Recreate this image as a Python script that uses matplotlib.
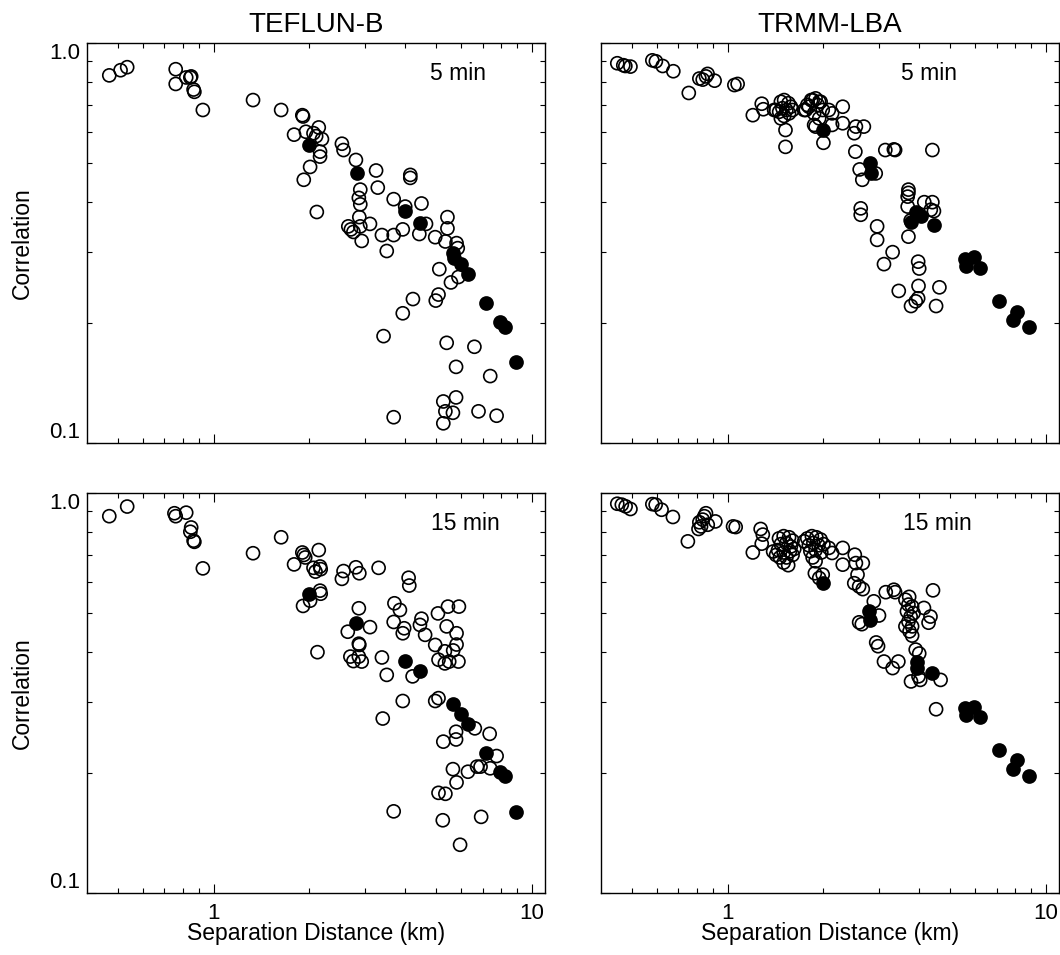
import numpy as np
import matplotlib.pyplot as plt
from matplotlib.ticker import FixedLocator, NullFormatter

plt.rcParams['font.family'] = ['Liberation Sans', 'DejaVu Sans']

# ---- labels ----
titles = ["TEFLUN-B", "TRMM-LBA"]
intervals = ["5 min", "15 min"]
x_label = "Separation Distance (km)"
y_label = "Correlation"

# ---- data: (separation km, correlation) ----
tef5_open = [
    (0.47, 0.83), (0.51, 0.855), (0.535, 0.87), (0.76, 0.86), (0.76, 0.79), (0.82, 0.82), (0.85, 0.825),
    (0.845, 0.82), (0.865, 0.765), (0.87, 0.755), (0.925, 0.68), (1.33, 0.72), (1.63, 0.68), (1.90, 0.66),
    (1.91, 0.655), (1.79, 0.59), (1.95, 0.60), (2.14, 0.615), (2.06, 0.595), (2.10, 0.585), (2.19, 0.575),
    (2.16, 0.535), (2.16, 0.52), (2.01, 0.49), (1.92, 0.455), (2.11, 0.378), (2.53, 0.56), (2.56, 0.54),
    (2.80, 0.51), (3.24, 0.48), (3.28, 0.435), (2.89, 0.43), (2.86, 0.41), (2.89, 0.395), (2.87, 0.367),
    (2.89, 0.348), (3.10, 0.353), (2.65, 0.348), (2.70, 0.342), (2.75, 0.337), (2.92, 0.32), (4.15, 0.468),
    (4.15, 0.46), (3.68, 0.407), (4.00, 0.39), (4.50, 0.397), (4.65, 0.353), (3.38, 0.331), (3.68, 0.331),
    (3.93, 0.342), (3.50, 0.302), (4.43, 0.333), (4.97, 0.327), (5.43, 0.367), (5.43, 0.344), (5.35, 0.319),
    (5.80, 0.316), (5.85, 0.307), (5.88, 0.26), (5.57, 0.252), (5.12, 0.272), (4.23, 0.229), (5.09, 0.235),
    (4.99, 0.227), (3.93, 0.211), (3.42, 0.185), (5.40, 0.178), (6.60, 0.174), (5.78, 0.155), (7.40, 0.147),
    (5.78, 0.13), (5.27, 0.127), (5.35, 0.12), (5.65, 0.119), (5.27, 0.112), (3.68, 0.116), (6.80, 0.12),
    (7.75, 0.117),
]
tef5_fill = [
    (1.99, 0.555), (2.82, 0.472), (4.00, 0.38), (4.45, 0.355), (5.65, 0.298), (5.70, 0.29), (6.00, 0.28),
    (6.30, 0.264), (7.20, 0.224), (7.95, 0.201), (8.25, 0.195), (8.90, 0.159),
]

lba5_open = [
    (0.45, 0.89), (0.47, 0.88), (0.477, 0.876), (0.495, 0.873), (0.58, 0.905), (0.595, 0.90), (0.625, 0.876),
    (0.675, 0.85), (0.755, 0.75), (0.815, 0.815), (0.835, 0.81), (0.855, 0.825), (0.865, 0.837), (0.91, 0.805),
    (1.05, 0.785), (1.075, 0.79), (1.20, 0.66), (1.28, 0.705), (1.295, 0.683), (1.40, 0.68),
    (1.47, 0.713), (1.505, 0.72), (1.553, 0.707), (1.58, 0.693), (1.487, 0.687), (1.53, 0.68), (1.452, 0.673),
    (1.56, 0.667), (1.505, 0.657), (1.47, 0.648), (1.418, 0.68), (1.60, 0.68), (1.52, 0.606), (1.52, 0.55),
    (1.74, 0.68), (1.83, 0.72), (1.89, 0.727), (1.96, 0.713), (1.80, 0.693), (1.87, 0.667), (1.99, 0.68),
    (1.94, 0.648), (1.87, 0.624), (2.00, 0.563), (1.85, 0.72), (1.76, 0.68), (1.94, 0.713), (2.08, 0.68),
    (2.30, 0.693), (2.13, 0.667), (2.30, 0.63), (1.89, 0.618), (2.13, 0.624), (1.78, 0.70), (1.92, 0.70),
    (2.53, 0.618), (2.50, 0.595), (2.68, 0.618), (2.52, 0.535), (3.13, 0.54), (3.33, 0.542), (3.36, 0.54),
    (4.40, 0.54), (2.60, 0.483), (2.92, 0.472), (2.65, 0.455), (3.70, 0.43), (3.70, 0.422), (3.68, 0.413),
    (4.40, 0.40), (4.35, 0.383), (4.15, 0.40), (3.68, 0.39), (3.70, 0.328), (2.62, 0.386), (2.62, 0.372),
    (2.95, 0.348), (2.95, 0.322), (3.30, 0.30), (3.10, 0.28), (3.76, 0.36), (3.97, 0.284), (4.00, 0.273),
    (3.45, 0.24), (3.98, 0.247), (4.63, 0.245), (3.97, 0.23), (3.90, 0.226), (3.77, 0.22), (4.52, 0.22),
    (4.45, 0.38),
]
lba5_fill = [
    (1.99, 0.606), (2.80, 0.50), (2.82, 0.472), (3.90, 0.377), (4.45, 0.351), (3.77, 0.357), (4.05, 0.37),
    (5.57, 0.288), (5.95, 0.291), (5.60, 0.277), (6.22, 0.274), (7.13, 0.227), (8.10, 0.213), (7.90, 0.203),
    (8.85, 0.195),
]

tef15_open = [
    (0.47, 0.875), (0.535, 0.925), (0.753, 0.89), (0.76, 0.875), (0.82, 0.893), (0.85, 0.82), (0.845, 0.80),
    (0.865, 0.76), (0.87, 0.755), (0.925, 0.648), (1.33, 0.707), (1.63, 0.775), (1.90, 0.71), (1.92, 0.70),
    (1.94, 0.69), (1.79, 0.663), (2.14, 0.72), (2.06, 0.65), (2.09, 0.636), (2.16, 0.655), (2.17, 0.645),
    (2.16, 0.57), (2.17, 0.56), (2.01, 0.538), (1.91, 0.522), (2.12, 0.40), (2.56, 0.638), (2.53, 0.61),
    (2.80, 0.652), (2.86, 0.515), (2.64, 0.45), (2.69, 0.39), (2.75, 0.38), (2.86, 0.42), (3.10, 0.462),
    (3.68, 0.476), (3.97, 0.459), (3.93, 0.446), (4.45, 0.468), (4.62, 0.442), (5.40, 0.464), (5.80, 0.446),
    (5.80, 0.418), (4.97, 0.417), (5.33, 0.402), (5.66, 0.404), (5.09, 0.383), (5.33, 0.375), (5.50, 0.379),
    (5.88, 0.379), (2.87, 0.417), (2.92, 0.379), (2.86, 0.39), (3.38, 0.388), (3.50, 0.351), (4.22, 0.348),
    (3.93, 0.302), (3.40, 0.273), (4.97, 0.302), (5.09, 0.307), (6.62, 0.258), (7.37, 0.25), (5.78, 0.253),
    (5.27, 0.239), (5.78, 0.242), (7.75, 0.22), (7.40, 0.205), (6.90, 0.207), (6.73, 0.207), (6.30, 0.201),
    (5.65, 0.204), (5.80, 0.189), (5.09, 0.178), (5.35, 0.177), (3.68, 0.16), (5.25, 0.152), (6.93, 0.155),
    (5.95, 0.132), (3.30, 0.65), (2.87, 0.63), (4.10, 0.614), (4.12, 0.587), (3.70, 0.53), (3.85, 0.51),
    (4.50, 0.485), (5.45, 0.52), (5.90, 0.52), (5.07, 0.50),
]
tef15_fill = [
    (2.00, 0.56), (2.80, 0.472), (4.00, 0.381), (4.45, 0.358), (5.65, 0.296), (6.00, 0.28), (6.28, 0.265),
    (7.20, 0.224), (7.95, 0.201), (8.25, 0.196), (8.90, 0.159),
]

lba15_open = [
    (0.45, 0.94), (0.465, 0.935), (0.478, 0.926), (0.495, 0.912), (0.58, 0.938), (0.594, 0.935), (0.62, 0.908),
    (0.673, 0.871), (0.75, 0.757), (0.815, 0.845), (0.835, 0.858), (0.855, 0.89), (0.845, 0.875), (0.825, 0.825),
    (0.81, 0.813), (0.866, 0.833), (0.915, 0.849), (1.04, 0.825), (1.06, 0.822), (1.27, 0.813), (1.29, 0.787),
    (1.28, 0.747), (1.20, 0.71), (1.39, 0.714),
    (1.45, 0.77), (1.50, 0.78), (1.56, 0.775), (1.60, 0.76), (1.47, 0.745), (1.53, 0.75), (1.58, 0.735),
    (1.44, 0.72), (1.50, 0.71), (1.57, 0.715), (1.62, 0.725), (1.46, 0.69), (1.53, 0.69), (1.60, 0.70),
    (1.50, 0.67), (1.55, 0.66), (1.42, 0.70), (1.74, 0.757),
    (1.78, 0.77), (1.84, 0.78), (1.90, 0.775), (1.96, 0.765), (1.80, 0.74), (1.86, 0.75), (1.93, 0.74),
    (2.00, 0.745), (1.82, 0.715), (1.89, 0.72), (1.97, 0.71), (1.85, 0.69), (1.89, 0.675), (1.94, 0.613),
    (1.99, 0.625), (1.88, 0.63),
    (2.08, 0.729), (2.13, 0.708), (2.30, 0.729), (2.30, 0.662), (2.51, 0.701), (2.66, 0.668), (2.53, 0.668),
    (2.56, 0.625), (2.50, 0.595), (2.59, 0.584), (2.66, 0.575), (3.14, 0.565), (3.33, 0.573), (3.36, 0.565),
    (2.88, 0.536), (2.99, 0.494), (2.59, 0.475), (2.64, 0.47), (4.42, 0.571),
    (3.62, 0.541), (3.70, 0.526), (3.80, 0.52), (3.66, 0.506), (3.76, 0.491), (3.70, 0.477), (3.80, 0.464),
    (3.73, 0.451), (3.84, 0.501), (3.62, 0.464), (3.72, 0.55), (3.80, 0.44),
    (4.14, 0.516), (4.34, 0.491), (4.28, 0.474), (2.93, 0.423), (2.97, 0.414), (3.10, 0.379), (3.30, 0.365),
    (3.44, 0.379), (3.90, 0.406), (4.00, 0.397), (3.98, 0.348), (3.77, 0.338), (4.03, 0.341), (4.67, 0.341),
    (4.52, 0.288),
]
lba15_fill = [
    (1.99, 0.595), (2.78, 0.506), (2.81, 0.482), (3.95, 0.379), (3.95, 0.365), (4.40, 0.355), (5.57, 0.29),
    (5.95, 0.292), (5.60, 0.279), (6.22, 0.276), (7.13, 0.228), (8.10, 0.215), (7.87, 0.204), (8.83, 0.196),
]

panels = [[(tef5_open, tef5_fill), (lba5_open, lba5_fill)],
          [(tef15_open, tef15_fill), (lba15_open, lba15_fill)]]

# ---- layout (pixels of a 1060x955 canvas) ----
W, H = 1060, 955
col_left = [87, 601]
row_top = [43, 493]
ax_w, ax_h = 458, 400
tag_x = [[0.81, 0.717], [0.827, 0.734]]

fig = plt.figure(figsize=(W / 100, H / 100), dpi=100)

for r in range(2):
    for c in range(2):
        ax = fig.add_axes([col_left[c] / W, 1 - (row_top[r] + ax_h) / H, ax_w / W, ax_h / H])
        ax.set_xscale('log')
        ax.set_yscale('log')
        ax.set_xlim(0.4, 11)
        ax.set_ylim(0.1, 1.0)

        op, fl = panels[r][c]
        xo, yo = np.array(op).T
        xf, yf = np.array(fl).T
        ax.scatter(xo, yo, s=88, facecolors='none', edgecolors='black', linewidths=1.2, zorder=3)
        ax.scatter(xf, yf, s=88, facecolors='black', edgecolors='black', linewidths=1.2, zorder=4)

        ax.xaxis.set_major_locator(FixedLocator([1, 10]))
        ax.xaxis.set_minor_locator(FixedLocator([0.5, 0.6, 0.7, 0.8, 0.9, 2, 3, 4, 5, 6, 7, 8, 9]))
        ax.yaxis.set_major_locator(FixedLocator([0.1, 1.0]))
        ax.yaxis.set_minor_locator(FixedLocator([0.2, 0.3, 0.4, 0.5, 0.6, 0.7, 0.8, 0.9]))
        ax.xaxis.set_minor_formatter(NullFormatter())
        ax.yaxis.set_minor_formatter(NullFormatter())

        if r == 1:
            ax.set_xticklabels(['1', '10'])
        else:
            ax.set_xticklabels([])
        if c == 0:
            ax.set_yticklabels(['0.1', '1.0'])
            ticks = ax.yaxis.get_major_ticks()
            ticks[0].label1.set_va('bottom')
            ticks[1].label1.set_va('top')
        else:
            ax.set_yticklabels([])

        ax.tick_params(which='both', direction='in', top=True, right=True, width=0.8, labelsize=16)
        ax.tick_params(which='major', length=6.5)
        ax.tick_params(which='minor', length=3.3)
        ax.tick_params(axis='x', pad=7)
        ax.tick_params(axis='y', pad=5)
        for sp in ax.spines.values():
            sp.set_linewidth(1.0)

        ax.text(tag_x[r][c], 0.925, intervals[r], transform=ax.transAxes,
                ha='center', va='center', fontsize=16.5)

        if c == 0:
            fig.text(22 / W, 1 - (row_top[r] + ax_h / 2) / H, y_label, rotation=90,
                     ha='center', va='center', fontsize=16.5)
        if r == 1:
            fig.text((col_left[c] + ax_w / 2) / W, 1 - 922 / H, x_label,
                     ha='center', va='top', fontsize=16.5)

for c in range(2):
    fig.text((col_left[c] + ax_w / 2) / W, 1 - 32 / H, titles[c],
             ha='center', va='baseline', fontsize=20)

fig.savefig('out.png', dpi=100)
